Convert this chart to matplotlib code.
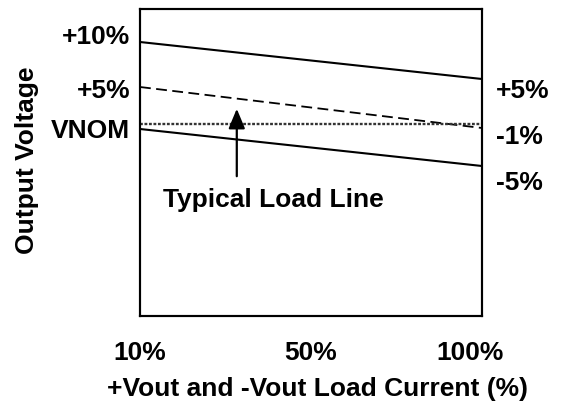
import matplotlib
matplotlib.use("Agg")
import matplotlib.pyplot as plt

plt.rcParams["font.family"] = ["Liberation Sans", "DejaVu Sans"]
plt.rcParams["font.weight"] = "bold"

# schematic load-line chart: x = load position (0..1 across the box),
# y = chart units (box height 0..307)
X = [0.0, 1.0]
UPPER = [274, 237]      # +10% -> +5% limit
TYPICAL = [229, 188]    # typical load line (dashed)
VNOM = [192, 192]       # nominal (dotted)
LOWER = [187, 150]      # 0% -> -5% limit

XTICKS = [0.0, 0.5, 0.965]
XLABELS = ["10%", "50%", "100%"]
YTICKS_L = [283, 229, 189]
YLABELS_L = ["+10%", "+5%", "VNOM"]
YTICKS_R = [229, 183, 137]
YLABELS_R = ["+5%", "-1%", "-5%"]

FS = 19

fig = plt.figure(figsize=(5.61, 4.10), dpi=100)
ax = fig.add_axes([140 / 561, 93 / 410, 342 / 561, 307 / 410])

ax.plot(X, UPPER, "-", color="black", lw=1.5)
ax.plot(X, TYPICAL, color="black", lw=1.3, linestyle=(0, (6, 3)))
ax.plot(X, VNOM, color="#333", lw=1.7, linestyle=(0, (1.2, 0.7)))
ax.plot(X, LOWER, "-", color="black", lw=1.5)

ax.annotate("", xy=(0.283, 210), xytext=(0.283, 137),
            arrowprops=dict(arrowstyle="-|>,head_length=1.2,head_width=0.5",
                            color="black", lw=1.6))
ax.text(0.389, 117, "Typical Load Line", ha="center", va="center",
        fontsize=FS, fontweight="bold")

ax.set_xlim(0, 1)
ax.set_ylim(0, 307)
ax.set_xticks(XTICKS)
ax.set_xticklabels(XLABELS, fontsize=FS, fontweight="bold")
ax.set_yticks(YTICKS_L)
ax.set_yticklabels(YLABELS_L, fontsize=FS, fontweight="bold")
ax.tick_params(axis="x", length=0, pad=17)
ax.tick_params(axis="y", length=0, pad=7)

ax2 = ax.twinx()
ax2.set_ylim(0, 307)
ax2.set_yticks(YTICKS_R)
ax2.set_yticklabels(YLABELS_R, fontsize=FS, fontweight="bold")
ax2.tick_params(axis="y", length=0, pad=10)

for a in (ax, ax2):
    for s in a.spines.values():
        s.set_linewidth(1.5)

ax.set_xlabel("+Vout and -Vout Load Current (%)", fontsize=FS, fontweight="bold")
ax.xaxis.set_label_coords(0.518, -0.236)
ax.xaxis.label.set_va("center")
ax.set_ylabel("Output Voltage", fontsize=FS, fontweight="bold")
ax.yaxis.set_label_coords(-0.33, 0.51)
ax.yaxis.label.set_va("center")

fig.savefig("out.png", dpi=100)
